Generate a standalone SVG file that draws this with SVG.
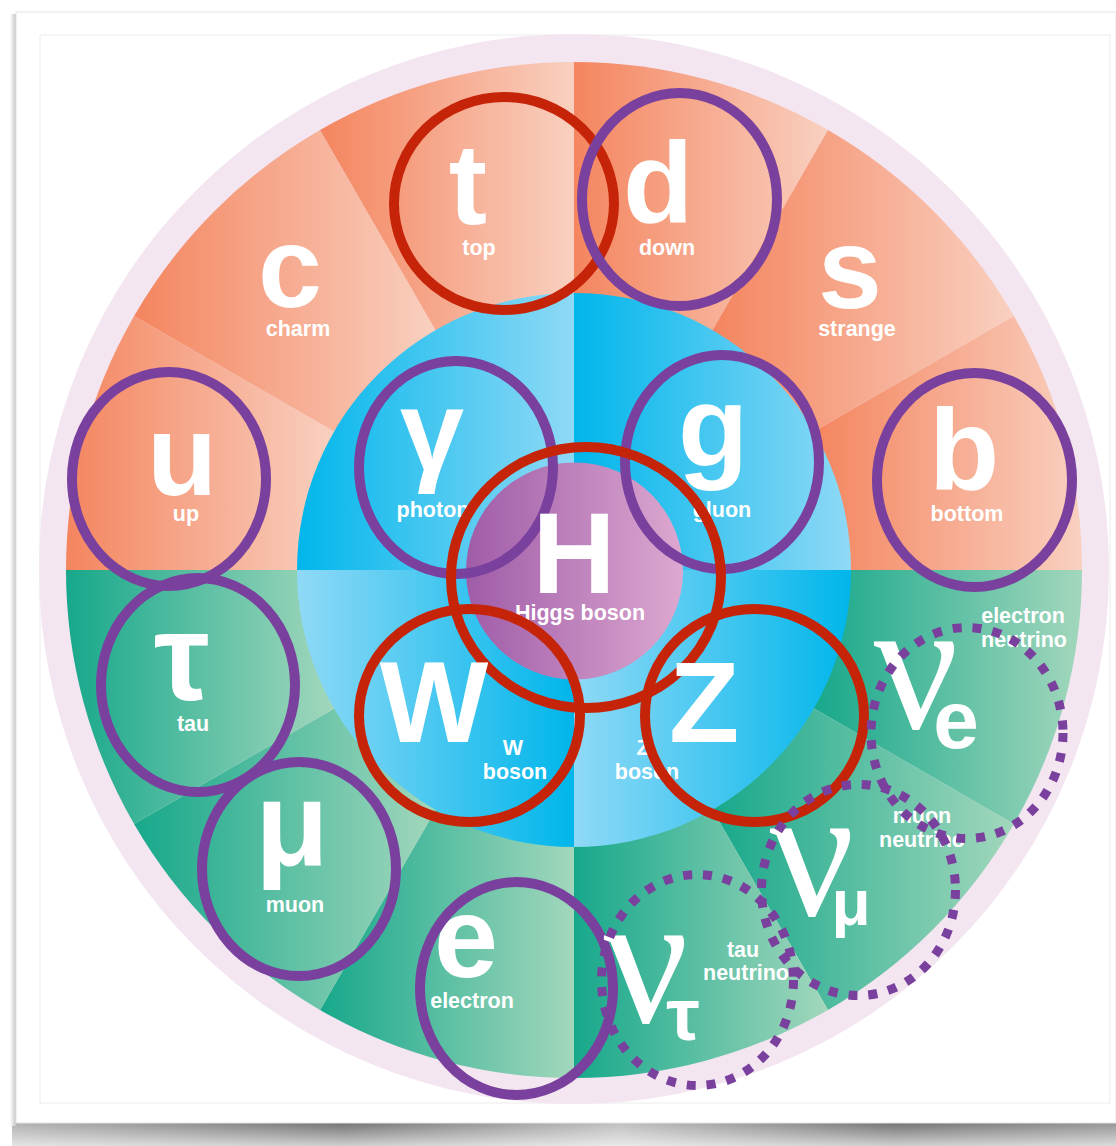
<svg xmlns="http://www.w3.org/2000/svg" width="1116" height="1146" viewBox="0 0 1116 1146">
<style>
.big{font-family:"Liberation Sans",Arial,sans-serif;font-weight:bold;font-size:115px;fill:#fff;text-anchor:middle}
.lbl{font-family:"Liberation Sans",Arial,sans-serif;font-weight:bold;font-size:21.5px;fill:#fff;text-anchor:middle}
.nu{font-family:"Liberation Serif","Times New Roman",serif;font-size:188px;fill:#fff;text-anchor:middle}
.sub{font-family:"Liberation Sans",Arial,sans-serif;font-weight:bold;fill:#fff;text-anchor:middle}
.rr{fill:none;stroke:#C62408;stroke-width:10}
.pr{fill:none;stroke:#7A409D;stroke-width:10}
.dr{fill:none;stroke:#7A409D;stroke-width:9;stroke-dasharray:9 11}
</style>
<defs>
<linearGradient id="oU" gradientUnits="userSpaceOnUse" x1="66" y1="0" x2="334" y2="0"><stop offset="0" stop-color="#F4855F"/><stop offset="1" stop-color="#F9D0C0"/></linearGradient>
<linearGradient id="oC" gradientUnits="userSpaceOnUse" x1="134" y1="0" x2="436" y2="0"><stop offset="0" stop-color="#F4855F"/><stop offset="1" stop-color="#F9D0C0"/></linearGradient>
<linearGradient id="oT" gradientUnits="userSpaceOnUse" x1="320" y1="0" x2="574" y2="0"><stop offset="0" stop-color="#F4855F"/><stop offset="1" stop-color="#F9D0C0"/></linearGradient>
<linearGradient id="oD" gradientUnits="userSpaceOnUse" x1="574" y1="0" x2="828" y2="0"><stop offset="0" stop-color="#F4855F"/><stop offset="1" stop-color="#F9D0C0"/></linearGradient>
<linearGradient id="oS" gradientUnits="userSpaceOnUse" x1="712" y1="0" x2="1014" y2="0"><stop offset="0" stop-color="#F4855F"/><stop offset="1" stop-color="#F9D0C0"/></linearGradient>
<linearGradient id="oB" gradientUnits="userSpaceOnUse" x1="814" y1="0" x2="1082" y2="0"><stop offset="0" stop-color="#F4855F"/><stop offset="1" stop-color="#F9D0C0"/></linearGradient>
<linearGradient id="gTa" gradientUnits="userSpaceOnUse" x1="66" y1="0" x2="334" y2="0"><stop offset="0" stop-color="#17A88B"/><stop offset="1" stop-color="#A2D7BC"/></linearGradient>
<linearGradient id="gMu" gradientUnits="userSpaceOnUse" x1="134" y1="0" x2="436" y2="0"><stop offset="0" stop-color="#17A88B"/><stop offset="1" stop-color="#A2D7BC"/></linearGradient>
<linearGradient id="gE" gradientUnits="userSpaceOnUse" x1="320" y1="0" x2="574" y2="0"><stop offset="0" stop-color="#17A88B"/><stop offset="1" stop-color="#A2D7BC"/></linearGradient>
<linearGradient id="gNt" gradientUnits="userSpaceOnUse" x1="574" y1="0" x2="828" y2="0"><stop offset="0" stop-color="#17A88B"/><stop offset="1" stop-color="#A2D7BC"/></linearGradient>
<linearGradient id="gNm" gradientUnits="userSpaceOnUse" x1="712" y1="0" x2="1014" y2="0"><stop offset="0" stop-color="#17A88B"/><stop offset="1" stop-color="#A2D7BC"/></linearGradient>
<linearGradient id="gNe" gradientUnits="userSpaceOnUse" x1="814" y1="0" x2="1082" y2="0"><stop offset="0" stop-color="#17A88B"/><stop offset="1" stop-color="#A2D7BC"/></linearGradient>
<linearGradient id="bL1" gradientUnits="userSpaceOnUse" x1="297" y1="0" x2="574" y2="0"><stop offset="0" stop-color="#00B6EB"/><stop offset="1" stop-color="#8FD9F6"/></linearGradient>
<linearGradient id="bR1" gradientUnits="userSpaceOnUse" x1="574" y1="0" x2="851" y2="0"><stop offset="0" stop-color="#00B6EB"/><stop offset="1" stop-color="#8FD9F6"/></linearGradient>
<linearGradient id="bL2" gradientUnits="userSpaceOnUse" x1="297" y1="0" x2="574" y2="0"><stop offset="0" stop-color="#8FD9F6"/><stop offset="1" stop-color="#00B6EB"/></linearGradient>
<linearGradient id="bR2" gradientUnits="userSpaceOnUse" x1="574" y1="0" x2="851" y2="0"><stop offset="0" stop-color="#8FD9F6"/><stop offset="1" stop-color="#00B6EB"/></linearGradient>
<linearGradient id="hig" gradientUnits="userSpaceOnUse" x1="466" y1="0" x2="683" y2="0"><stop offset="0" stop-color="#9F5CA8"/><stop offset="1" stop-color="#DDA8D0"/></linearGradient>
<linearGradient id="shV" x1="0" y1="0" x2="0" y2="1"><stop offset="0" stop-color="#747474"/><stop offset="0.45" stop-color="#9c9c9c"/><stop offset="1" stop-color="#cfcfcf"/></linearGradient>
<linearGradient id="shH" x1="0" y1="0" x2="1" y2="0"><stop offset="0" stop-color="#fff" stop-opacity="0.45"/><stop offset="0.3" stop-color="#fff" stop-opacity="0"/><stop offset="0.55" stop-color="#fff" stop-opacity="0.55"/><stop offset="0.8" stop-color="#fff" stop-opacity="0"/><stop offset="1" stop-color="#fff" stop-opacity="0.25"/></linearGradient>
<linearGradient id="shL" x1="0" y1="0" x2="1" y2="0"><stop offset="0" stop-color="#fff"/><stop offset="1" stop-color="#c4c4c4"/></linearGradient>
</defs>

<g id="card">
<rect x="0" y="0" width="1116" height="1146" fill="#fff"/>
<rect x="12" y="1123" width="1104" height="23" fill="url(#shV)"/>
<rect x="12" y="1123" width="1104" height="23" fill="url(#shH)"/>
<rect x="10" y="14" width="6" height="1112" fill="url(#shL)"/>
<rect x="16" y="12" width="1100" height="1111" fill="#fff" stroke="#e4e4e4" stroke-width="1"/>
<rect x="40" y="35" width="1070" height="1068" fill="#fff" stroke="#ececec" stroke-width="1"/>
</g>

<g id="background">
<circle cx="574" cy="569" r="535" fill="#F3E6F1"/>
<path d="M574,570 L66,570 A508,508 0 0 1 134.1,316 Z" fill="url(#oU)"/>
<path d="M574,570 L134.1,316 A508,508 0 0 1 320,130.1 Z" fill="url(#oC)"/>
<path d="M574,570 L320,130.1 A508,508 0 0 1 574,62 Z" fill="url(#oT)"/>
<path d="M574,570 L574,62 A508,508 0 0 1 828,130.1 Z" fill="url(#oD)"/>
<path d="M574,570 L828,130.1 A508,508 0 0 1 1013.9,316 Z" fill="url(#oS)"/>
<path d="M574,570 L1013.9,316 A508,508 0 0 1 1082,570 Z" fill="url(#oB)"/>
<path d="M574,570 L1082,570 A508,508 0 0 1 1013.9,824 Z" fill="url(#gNe)"/>
<path d="M574,570 L1013.9,824 A508,508 0 0 1 828,1009.9 Z" fill="url(#gNm)"/>
<path d="M574,570 L828,1009.9 A508,508 0 0 1 574,1078 Z" fill="url(#gNt)"/>
<path d="M574,570 L574,1078 A508,508 0 0 1 320,1009.9 Z" fill="url(#gE)"/>
<path d="M574,570 L320,1009.9 A508,508 0 0 1 134.1,824 Z" fill="url(#gMu)"/>
<path d="M574,570 L134.1,824 A508,508 0 0 1 66,570 Z" fill="url(#gTa)"/>
<path d="M574,570 L297,570 A277,277 0 0 1 574,293 Z" fill="url(#bL1)"/>
<path d="M574,570 L574,293 A277,277 0 0 1 851,570 Z" fill="url(#bR1)"/>
<path d="M574,570 L851,570 A277,277 0 0 1 574,847 Z" fill="url(#bR2)"/>
<path d="M574,570 L574,847 A277,277 0 0 1 297,570 Z" fill="url(#bL2)"/>
<circle cx="574.5" cy="571" r="108.5" fill="url(#hig)"/>
</g>

<g id="charm"><text class="big" x="290" y="307">c</text><text class="lbl" x="298" y="336">charm</text></g>
<g id="strange"><text class="big" x="850" y="308">s</text><text class="lbl" x="857" y="336">strange</text></g>
<g id="top"><text class="big" x="468" y="224">t</text><text class="lbl" x="479" y="255">top</text><ellipse class="rr" cx="504" cy="203.5" rx="110" ry="106.5"/></g>
<g id="down"><text class="big" x="658" y="223">d</text><text class="lbl" x="667" y="255">down</text><ellipse class="pr" cx="679.5" cy="199.5" rx="97.5" ry="106.5"/></g>
<g id="up"><text class="big" x="182" y="495">u</text><text class="lbl" x="186" y="521">up</text><ellipse class="pr" cx="169" cy="479" rx="97" ry="107"/></g>
<g id="bottom"><text class="big" x="964" y="490">b</text><text class="lbl" x="967" y="521">bottom</text><ellipse class="pr" cx="974.5" cy="480" rx="97.5" ry="107"/></g>
<g id="tau"><text class="big" x="182" y="700" style="font-size:125px">τ</text><text class="lbl" x="193" y="731">tau</text><ellipse class="pr" cx="198" cy="685" rx="97" ry="107"/></g>
<g id="muon"><text class="big" x="292" y="865" style="font-size:120px">μ</text><text class="lbl" x="295" y="912">muon</text><ellipse class="pr" cx="299" cy="869" rx="97" ry="107"/></g>
<g id="electron"><text class="big" x="466" y="977">e</text><text class="lbl" x="472" y="1008">electron</text><ellipse class="pr" cx="516.5" cy="988.5" rx="96.5" ry="106.5"/></g>
<g id="photon"><text class="big" x="432" y="470">γ</text><text class="lbl" x="433" y="517">photon</text><ellipse class="pr" cx="456" cy="467.5" rx="97" ry="106.5"/></g>
<g id="gluon"><text class="big" x="713" y="467">g</text><text class="lbl" x="722" y="517">gluon</text><ellipse class="pr" cx="722" cy="462" rx="97" ry="107"/></g>
<g id="higgs"><text class="big" x="574" y="593">H</text><text class="lbl" x="580" y="620">Higgs boson</text><ellipse class="rr" cx="586" cy="577.5" rx="135" ry="130.5"/></g>
<g id="w-boson"><text class="big" x="434" y="742">W</text><text class="lbl" x="513" y="755">W</text><text class="lbl" x="515" y="779">boson</text><ellipse class="rr" cx="469.5" cy="715.5" rx="110.5" ry="106.5"/></g>
<g id="z-boson"><text class="big" x="704" y="742">Z</text><text class="lbl" x="643" y="755">Z</text><text class="lbl" x="647" y="779">boson</text><ellipse class="rr" cx="754.5" cy="715.5" rx="109.5" ry="106.5"/></g>
<g id="tau-neutrino"><text class="nu" x="646" y="1022">ν</text><text class="sub" x="683" y="1040" style="font-size:75px">τ</text><text class="lbl" x="743" y="957">tau</text><text class="lbl" x="746" y="980">neutrino</text><ellipse class="dr" cx="697.5" cy="980" rx="96" ry="105.5"/></g>
<g id="muon-neutrino"><text class="nu" x="812" y="915">ν</text><text class="sub" x="851" y="925" style="font-size:64px">μ</text><text class="lbl" x="922" y="823">muon</text><text class="lbl" x="922" y="847">neutrino</text><ellipse class="dr" cx="858.5" cy="890" rx="97" ry="105.5"/></g>
<g id="electron-neutrino"><text class="nu" x="916" y="728">ν</text><text class="sub" x="956" y="748" style="font-size:82px">e</text><text class="lbl" x="1023" y="623">electron</text><text class="lbl" x="1024" y="647">neutrino</text><ellipse class="dr" cx="967" cy="733" rx="96" ry="105.5"/></g>
</svg>
